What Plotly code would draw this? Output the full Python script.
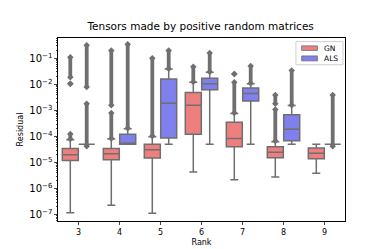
import plotly.graph_objects as go

ranks = [3, 4, 5, 6, 7, 8, 9]

# GN box statistics
gn_lower = [1.2e-7, 2.3e-7, 1.15e-7, 4.4e-6, 2.2e-6, 2.8e-6, 3.9e-6]
gn_q1 = [1.2e-5, 1.3e-5, 1.5e-5, 1.23e-4, 4.1e-5, 1.55e-5, 1.4e-5]
gn_median = [2.0e-5, 2.2e-5, 3.1e-5, 1.6e-3, 8.5e-5, 2.5e-5, 2.3e-5]
gn_q3 = [3.5e-5, 3.5e-5, 5.1e-5, 4.9e-3, 3.5e-4, 4.1e-5, 3.6e-5]
gn_upper = [7.6e-5, 8.0e-5, 9.8e-5, 1.2e-2, 7.6e-4, 6.3e-5, 5.1e-5]

# ALS box statistics
als_lower = [5.1e-5, 5.1e-5, 5.1e-5, 5.1e-5, 5.1e-5, 5.1e-5, 5.1e-5]
als_q1 = [5.1e-5, 5.1e-5, 8.7e-5, 6.3e-3, 2.3e-3, 6.9e-5, 5.1e-5]
als_median = [5.1e-5, 5.3e-5, 1.9e-3, 1.07e-2, 4.5e-3, 1.9e-4, 5.1e-5]
als_q3 = [5.1e-5, 1.23e-4, 1.6e-2, 1.74e-2, 7.2e-3, 6.9e-4, 5.1e-5]
als_upper = [5.1e-5, 2.0e-4, 3.9e-2, 2.9e-2, 1.07e-2, 1.55e-3, 5.1e-5]

# Outlier ranges (low, high) per rank, read from the dense flier columns
gn_outliers = [
    [(8.0e-5, 1.25e-4), (1.07e-2, 1.07e-2), (1.9e-2, 1.1e-1)],
    [(8.5e-5, 8.0e-4), (1.6e-3, 2.0e-1)],
    [(1.05e-4, 1.0e-1)],
    [(1.25e-2, 4.8e-2)],
    [(8.0e-4, 1.2e-2), (2.5e-2, 2.5e-2)],
    [(6.8e-5, 1.1e-3), (1.8e-3, 3.9e-3)],
    [],
]
als_outliers = [
    [(4.2e-5, 1.8e-3), (8.0e-3, 3.2e-1)],
    [(2.1e-4, 3.5e-1)],
    [(4.0e-2, 2.0e-1)],
    [(3.0e-2, 1.6e-1)],
    [(1.1e-2, 5.1e-2)],
    [(1.6e-3, 3.4e-2)],
    [(4.2e-5, 3.9e-3)],
]

series_names = ["GN", "ALS"]
series_colors = ["#EE7F7F", "#7F7FEE"]

series = [
    (series_names[0], gn_lower, gn_q1, gn_median, gn_q3, gn_upper, gn_outliers, series_colors[0], -0.2),
    (series_names[1], als_lower, als_q1, als_median, als_q3, als_upper, als_outliers, series_colors[1], 0.2),
]

EDGE = "#6f6f6f"
fig = go.Figure()
for name, lo, q1, med, q3, up, outl, color, off in series:
    xs = [r + off for r in ranks]
    fig.add_trace(go.Box(
        name=name, x=xs, lowerfence=lo, q1=q1, median=med, q3=q3, upperfence=up,
        fillcolor=color, line=dict(color=EDGE, width=1.5), width=0.39,
        whiskerwidth=0.5, boxpoints=False, showlegend=False,
    ))
    ox, oy = [], []
    for x, ranges in zip(xs, outl):
        for a, b in ranges:
            ox += [x, x, None]
            oy += [a, b, None]
    fig.add_trace(go.Scatter(
        x=ox, y=oy, mode="lines+markers", showlegend=False, hoverinfo="skip",
        line=dict(color=EDGE, width=3.8),
        marker=dict(symbol="diamond", size=5, color=EDGE),
        connectgaps=False,
    ))

# Compact matplotlib-style legend drawn in axis-domain coordinates
fig.add_shape(type="rect", xref="x domain", yref="y domain",
              x0=0.829, x1=0.993, y0=0.854, y1=0.980,
              line=dict(color="#d0d0d0", width=1), fillcolor="white", layer="above")
sw_rows = [(0.932, 0.957, 0.945), (0.875, 0.902, 0.889)]
for (y0, y1, yc), nm, col in zip(sw_rows, series_names, series_colors):
    fig.add_shape(type="rect", xref="x domain", yref="y domain",
                  x0=0.849, x1=0.904, y0=y0, y1=y1,
                  line=dict(color=EDGE, width=0.8), fillcolor=col, layer="above")
    fig.add_annotation(xref="x domain", yref="y domain", x=0.921, y=yc,
                       text=nm, showarrow=False, xanchor="left", yanchor="middle",
                       font=dict(size=7.5, color="black"))

fig.update_layout(
    width=374, height=249,
    margin=dict(l=47, r=37, t=30, b=32),
    paper_bgcolor="white", plot_bgcolor="white",
    font=dict(family="DejaVu Sans", size=8, color="black"),
    title=dict(text="Tensors made by positive random matrices", x=0.515, xanchor="center",
               y=0.925, yanchor="middle", font=dict(size=10.5)),
    showlegend=False,
)
fig.update_xaxes(
    range=[2.5, 9.5], tickvals=ranks, ticktext=[str(r) for r in ranks],
    showline=True, linecolor="black", linewidth=1, mirror=True, ticks="outside",
    ticklen=3, showgrid=False, zeroline=False,
    title=dict(text="Rank", standoff=3, font=dict(size=8)),
)
fig.update_yaxes(
    type="log", range=[-7.24, -0.22], dtick=1, exponentformat="power",
    showline=True, linecolor="black", linewidth=1, mirror=True, ticks="outside",
    ticklen=3, showgrid=False, zeroline=False,
    minor=dict(ticks="outside", ticklen=1.5, dtick="D1", showgrid=False),
    title=dict(text="Residual", standoff=4, font=dict(size=8)),
)
fig.write_html("out.html")
